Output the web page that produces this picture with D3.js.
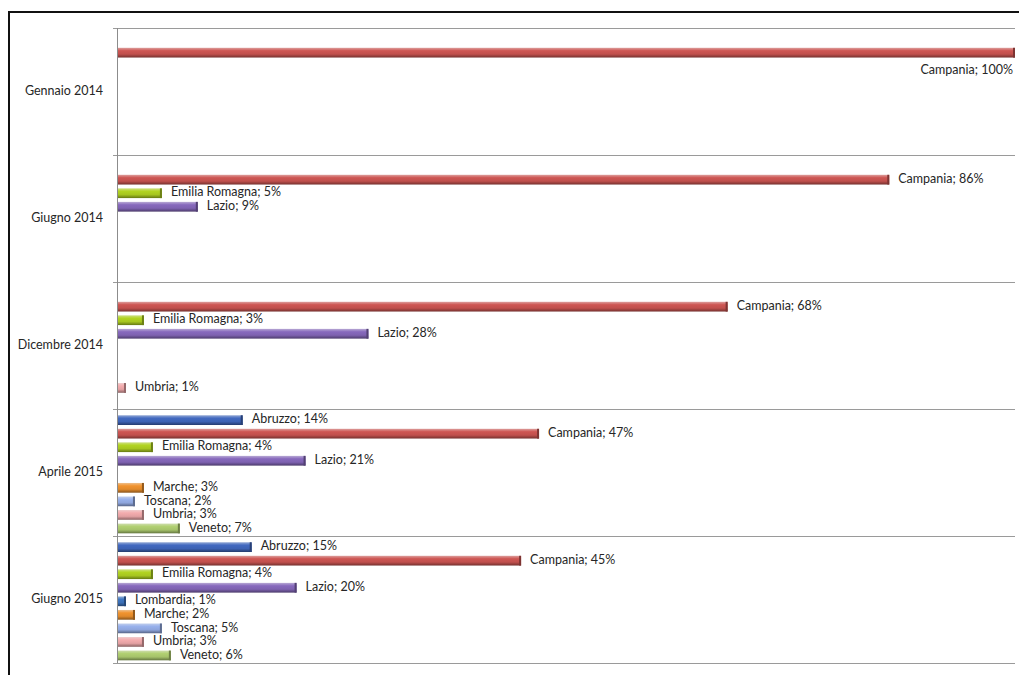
<!DOCTYPE html>
<html>
<head>
<meta charset="utf-8">
<script src="https://cdn.jsdelivr.net/npm/d3@7"></script>
<style>
  html, body { margin: 0; padding: 0; background: #fff; }
  svg { display: block; }
  text { font-family: Lato, "Open Sans", sans-serif; fill: #262626; }
</style>
</head>
<body>
<svg id="chart" width="1019" height="675"></svg>
<script>
// ---- data ----
const periods = ["Gennaio 2014", "Giugno 2014", "Dicembre 2014", "Aprile 2015", "Giugno 2015"];
const regions = ["Abruzzo", "Campania", "Emilia Romagna", "Lazio", "Lombardia", "Marche", "Toscana", "Umbria", "Veneto"];
const abruzzo       = [null, null, null, 14, 15];
const campania      = [100, 86, 68, 47, 45];
const emiliaRomagna = [null, 5, 3, 4, 4];
const lazio         = [null, 9, 28, 21, 20];
const lombardia     = [null, null, null, null, 1];
const marche        = [null, null, null, 3, 2];
const toscana       = [null, null, null, 2, 5];
const umbria        = [null, null, 1, 3, 3];
const veneto        = [null, null, null, 7, 6];
const seriesValues = [abruzzo, campania, emiliaRomagna, lazio, lombardia, marche, toscana, umbria, veneto];
const colors = ["#3d62b3", "#c0504d", "#a6c520", "#7e62b0", "#3b6fb5", "#e0892b", "#8ea5dc", "#e3a0a2", "#a5c26a"];

// ---- layout ----
const svg = d3.select("#chart");
const plotLeft = 117, plotRight = 1015, plotTop = 28, plotBottom = 663;

// outer frame
svg.append("rect").attr("x", 9).attr("y", 12).attr("width", 1020).attr("height", 680)
  .attr("fill", "none").attr("stroke", "#111").attr("stroke-width", 2);

const x = d3.scaleLinear().domain([0, 100]).range([plotLeft, plotRight]);
const y0 = d3.scaleBand().domain(periods).range([plotTop, plotBottom]).padding(0);
const y1 = d3.scaleBand().domain(regions).range([0, y0.bandwidth()])
  .paddingInner(0.28).paddingOuter(0.33).align(0.7);

// gradients
const defs = svg.append("defs");
regions.forEach((r, i) => {
  const c = d3.color(colors[i]);
  const g = defs.append("linearGradient").attr("id", "g" + i)
    .attr("x1", 0).attr("y1", 0).attr("x2", 0).attr("y2", 1);
  g.append("stop").attr("offset", "0%").attr("stop-color", d3.interpolateRgb(c, "#fff")(0.45));
  g.append("stop").attr("offset", "30%").attr("stop-color", c.brighter(0.2));
  g.append("stop").attr("offset", "65%").attr("stop-color", c);
  g.append("stop").attr("offset", "100%").attr("stop-color", c.darker(1.4));
});

// gridlines at category boundaries
const bounds = periods.map(p => y0(p)).concat([plotBottom]);
svg.append("g").selectAll("line").data(bounds).join("line")
  .attr("x1", plotLeft - 4).attr("x2", plotRight)
  .attr("y1", d => d + 0.5).attr("y2", d => d + 0.5)
  .attr("stroke", "#9a9a9a").attr("stroke-width", 1);

// y axis line
svg.append("line").attr("x1", plotLeft + 0.5).attr("x2", plotLeft + 0.5)
  .attr("y1", plotTop).attr("y2", plotBottom).attr("stroke", "#8c8c8c");

// category labels
svg.append("g").selectAll("text").data(periods).join("text")
  .attr("x", 103).attr("y", d => y0(d) + y0.bandwidth() / 2)
  .attr("text-anchor", "end").attr("dominant-baseline", "middle")
  .attr("font-size", 12.5).text(d => d);

// bars
const data = [];
periods.forEach((p, pi) => {
  regions.forEach((r, ri) => {
    const v = seriesValues[ri][pi];
    if (v != null) data.push({ p, r, ri, v });
  });
});

const barG = svg.append("g");
barG.selectAll("rect.bar").data(data).join("rect").attr("class", "bar")
  .attr("x", plotLeft + 1)
  .attr("y", d => y0(d.p) + y1(d.r))
  .attr("width", d => x(d.v) - plotLeft - 1)
  .attr("height", y1.bandwidth())
  .attr("fill", d => "url(#g" + d.ri + ")");
// end caps for 3D look
barG.selectAll("rect.cap").data(data).join("rect").attr("class", "cap")
  .attr("x", d => x(d.v) - 2)
  .attr("y", d => y0(d.p) + y1(d.r))
  .attr("width", 2)
  .attr("height", y1.bandwidth())
  .attr("fill", d => d3.color(colors[d.ri]).darker(1.2));

// labels
const lbl = svg.append("g");
data.forEach(d => {
  const t = lbl.append("text").attr("font-size", 12.5).attr("dominant-baseline", "middle")
    .text(d.r + "; " + d.v + "%");
  const w = t.node().getComputedTextLength();
  const cy = y0(d.p) + y1(d.r) + y1.bandwidth() / 2;
  if (x(d.v) + 9 + w > plotRight) {
    t.attr("x", plotRight - 2).attr("y", cy + 18).attr("text-anchor", "end");
  } else {
    t.attr("x", x(d.v) + 9).attr("y", cy);
  }
});
</script>
</body>
</html>
